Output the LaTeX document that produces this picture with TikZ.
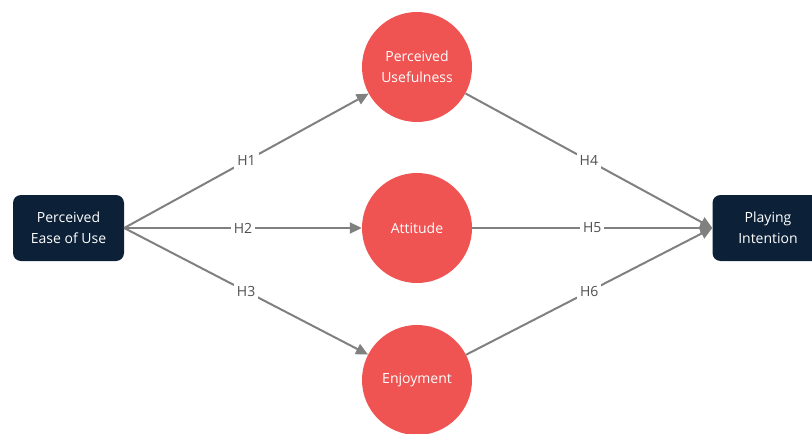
\documentclass[tikz,border=0pt]{standalone}
\usepackage{fontspec}
\setmainfont{Open Sans}
\usetikzlibrary{arrows.meta}
\definecolor{cred}{RGB}{239,84,82}
\definecolor{cnavy}{RGB}{12,33,56}
\definecolor{cline}{RGB}{128,128,128}
\definecolor{clabel}{RGB}{80,80,80}
\tikzset{
  boxnode/.style={draw=none, fill=cnavy, rounded corners=8pt, text=white, minimum width=111pt, minimum height=66pt, align=center, font=\fontsize{14}{21}\selectfont, inner sep=0pt},
  circnode/.style={circle, fill=cred, text=white, minimum size=110pt, align=center, font=\fontsize{14}{21}\selectfont, inner sep=0pt},
  conn/.style={draw=cline, line width=2pt, -{Triangle[length=12pt,width=11pt]}},
  hlabel/.style={fill=white, text=clabel, font=\fontsize{14}{16}\selectfont, inner sep=3pt}
}
\begin{document}
\begin{tikzpicture}[x=1pt,y=-1pt]
\useasboundingbox (0,0) rectangle (812,434);
\node[boxnode] (L) at (68.5,228) {Perceived\\Ease of Use};
\node[boxnode] (R) at (768,228) {Playing\\Intention};
\node[circnode] (PU) at (417,67) {Perceived\\Usefulness};
\node[circnode] (AT) at (417,228) {Attitude};
\node[circnode] (EN) at (417,380) {Enjoyment};
\draw[conn] (L.east) -- node[hlabel]{H1} (PU);
\draw[conn] (L.east) -- node[hlabel]{H2} (AT);
\draw[conn] (L.east) -- node[hlabel]{H3} (EN);
\draw[conn] (PU) -- node[hlabel]{H4} (R.west);
\draw[conn] (AT) -- node[hlabel]{H5} (R.west);
\draw[conn] (EN) -- node[hlabel]{H6} (R.west);
\end{tikzpicture}
\end{document}
